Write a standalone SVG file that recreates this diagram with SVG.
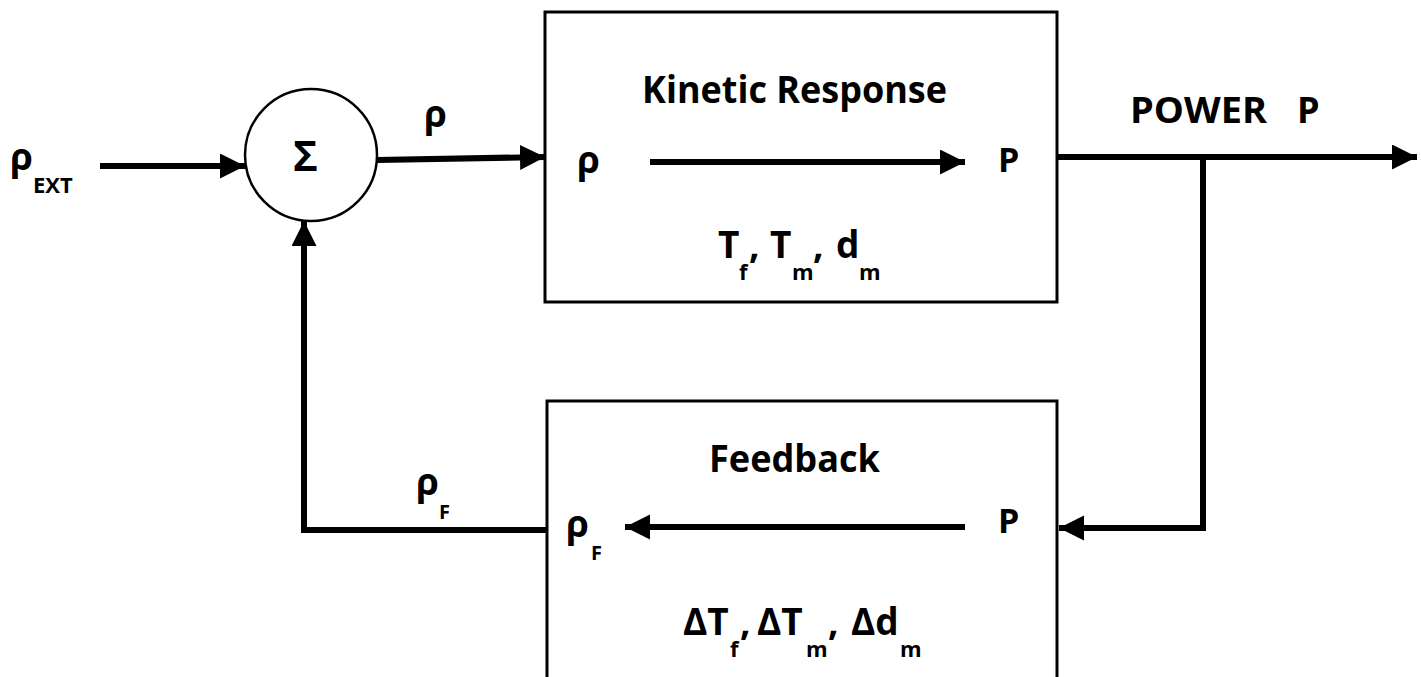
<svg xmlns="http://www.w3.org/2000/svg" width="1421" height="677" viewBox="0 0 1421 677">
<style>
.t{font-family:"Open Sans","Noto Sans","DejaVu Sans",sans-serif;font-weight:bold;fill:#000}
.box{fill:#fff;stroke:#000;stroke-width:3}
.wire{fill:none;stroke:#000;stroke-width:6;stroke-linejoin:miter;stroke-linecap:butt}
.big{font-size:37px}
.rho{font-size:37px}
.sub{font-size:22px}
.subs{font-size:20px}
</style>
<defs>
<marker id="ah" markerUnits="userSpaceOnUse" markerWidth="26" markerHeight="26" refX="25" refY="12.5" orient="auto" viewBox="0 0 26 26">
<path d="M0,0 L25,12.5 L0,25 z" fill="#000"/>
</marker>
</defs>
<rect width="1421" height="677" fill="#fff"/>

<g id="node-sum">
<circle cx="311" cy="155" r="66" fill="#fff" stroke="#000" stroke-width="2.5"/>
<text class="t" x="305.5" y="171" font-size="42" text-anchor="middle">Σ</text>
</g>

<g id="node-kinetic">
<rect class="box" x="545" y="12" width="512" height="290"/>
<text class="t big" x="642" y="103" textLength="305" lengthAdjust="spacingAndGlyphs">Kinetic Response</text>
<text class="t rho" x="577" y="173">ρ</text>
<text class="t" x="998" y="172" font-size="34">P</text>
<text class="t big"><tspan x="718" y="258">T</tspan><tspan class="sub" x="739" y="280">f</tspan><tspan x="749" y="258">,</tspan><tspan x="770" y="258">T</tspan><tspan class="sub" x="792" y="280">m</tspan><tspan x="813" y="258">,</tspan><tspan x="836" y="258">d</tspan><tspan class="sub" x="859" y="280">m</tspan></text>
</g>

<g id="node-feedback">
<rect class="box" x="547" y="401" width="510" height="290"/>
<text class="t big" x="709" y="472" textLength="171" lengthAdjust="spacingAndGlyphs">Feedback</text>
<text class="t rho" x="566" y="537">ρ</text>
<text class="t subs" x="591" y="560">F</text>
<text class="t" x="998" y="533" font-size="34">P</text>
<text class="t big"><tspan x="683" y="635">ΔT</tspan><tspan class="sub" x="730" y="657">f</tspan><tspan x="740" y="635">,</tspan><tspan x="757" y="635">ΔT</tspan><tspan class="sub" x="806" y="657">m</tspan><tspan x="828" y="635">,</tspan><tspan x="851" y="635">Δd</tspan><tspan class="sub" x="900" y="657">m</tspan></text>
</g>

<g id="labels">
<text class="t rho" x="10" y="170">ρ</text>
<text class="t sub" x="33" y="193">EXT</text>
<text class="t rho" x="424" y="127">ρ</text>
<text class="t" x="1130" y="123" font-size="36" textLength="137" lengthAdjust="spacingAndGlyphs">POWER</text>
<text class="t" x="1297" y="123" font-size="36">P</text>
<text class="t rho" x="416" y="495">ρ</text>
<text class="t subs" x="439" y="519">F</text>
</g>

<g id="connectors">
<path class="wire" d="M100,166 L245,166" marker-end="url(#ah)"/>
<path class="wire" d="M377,160 L545,157" marker-end="url(#ah)"/>
<path class="wire" d="M650,162 L965,162" marker-end="url(#ah)"/>
<path class="wire" d="M1057,157 L1417,157" marker-end="url(#ah)"/>
<path class="wire" d="M1203,157 L1203,528 L1059,528" marker-end="url(#ah)"/>
<path class="wire" d="M965,527 L625,527" marker-end="url(#ah)"/>
<path class="wire" d="M547,530 L304,530 L304,221" marker-end="url(#ah)"/>
</g>
</svg>
